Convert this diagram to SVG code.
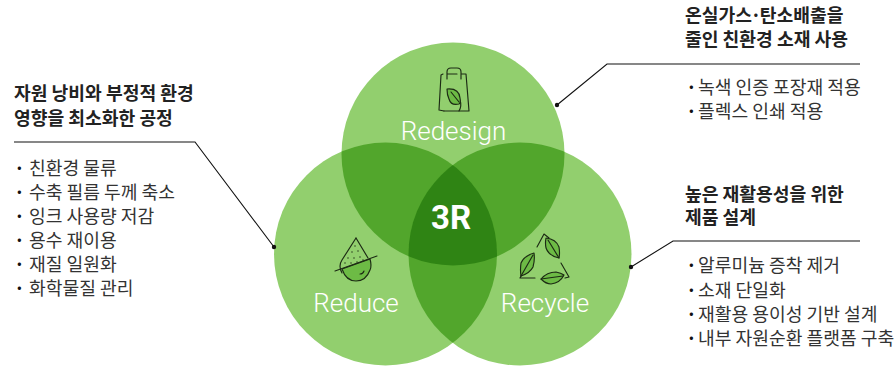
<svg xmlns="http://www.w3.org/2000/svg" width="895" height="366" viewBox="0 0 895 366">
<style>
text{font-family:"Noto Sans CJK KR","Noto Sans",sans-serif}
.h{font-size:18.2px;font-weight:700;fill:#222}
.b{font-size:18.2px;font-weight:400;fill:#333}
.d{font-weight:700;fill:#111}
.l{font-family:Roboto,"Noto Sans",sans-serif;font-size:26px;fill:#fff;font-weight:300;text-anchor:middle}
.c{fill:none;stroke:#111;stroke-width:1.1}
.i{fill:none;stroke:#1c2a14;stroke-width:1.15;stroke-linejoin:round;stroke-linecap:round}
.f{fill:#6dbb45;stroke:#1c2a14;stroke-width:1.15;stroke-linejoin:round}
</style>
<defs>
<clipPath id="ct"><circle cx="453" cy="154" r="111.5"/></clipPath>
<clipPath id="cl"><circle cx="385.5" cy="254" r="111.5"/></clipPath>
</defs>
<g id="venn">
<circle cx="453" cy="154" r="111.5" fill="#92cf6e"/>
<circle cx="385.5" cy="254" r="111.5" fill="#92cf6e"/>
<circle cx="520" cy="254" r="111.5" fill="#92cf6e"/>
<circle cx="385.5" cy="254" r="111.5" fill="#52a62c" clip-path="url(#ct)"/>
<circle cx="520" cy="254" r="111.5" fill="#52a62c" clip-path="url(#ct)"/>
<circle cx="520" cy="254" r="111.5" fill="#52a62c" clip-path="url(#cl)"/>
<g clip-path="url(#ct)"><circle cx="520" cy="254" r="111.5" fill="#2f8414" clip-path="url(#cl)"/></g>
<text x="451" y="229" style="font-family:Roboto,sans-serif" font-size="33" font-weight="700" fill="#fff" text-anchor="middle">3R</text>
</g>
<g id="node-redesign">
<path class="i" d="M443 74L441 75L439 110L444 111M459 111L469 111L466 74L461 74M447 74H457M447 74V72Q447 68 451 68H457Q461 68 461 72V79M447 74V79"/>
<path class="i" d="M444 111H459Q462 106 460 100"/>
<path class="f" d="M447 89Q459 88 460 98Q461 103 459 104Q451 106 449 99Q447 95 447 89Z"/>
<path class="i" d="M451 92L459 102"/>
<text class="l" x="453.500" y="140">Redesign</text>
</g>
<g id="node-reduce">
<path class="i" d="M356 238L342 260Q338 266 342 273"/>
<path class="i" d="M356 238L368 258"/>
<path class="f" d="M342 269L370 259Q372 266 370 270Q366 281 356 281Q346 281 342 269Z"/>
<path class="i" d="M335 271L377 256M364 271Q363 274 360 274"/>
<g fill="#1c2a14"><circle cx="355" cy="246" r=".7"/><circle cx="352" cy="252" r=".7"/><circle cx="358" cy="251" r=".7"/><circle cx="348" cy="258" r=".7"/><circle cx="354" cy="258" r=".7"/><circle cx="360" cy="257" r=".7"/><circle cx="345" cy="263" r=".7"/><circle cx="351" cy="263" r=".7"/><circle cx="357" cy="262" r=".7"/><circle cx="363" cy="260" r=".7"/></g>
<text class="l" x="356" y="312">Reduce</text>
</g>
<g id="node-recycle">
<path class="i" d="M537 247L544 234L549 238M561 263L569 277L565 278M535 278H520L524 270"/>
<path class="f" d="M546 238Q556 239 559 247Q560 253 559 258Q549 256 546 248Q545 243 546 238Z"/>
<path class="i" d="M548 240L559 258"/>
<path class="f" d="M534 253Q524 256 521 263Q520 270 521 276Q530 273 533 267Q535 260 534 253Z"/>
<path class="i" d="M533 255L521 276"/>
<path class="f" d="M541 279Q547 272 556 272Q561 273 564 275Q560 283 551 284Q546 284 541 279Z"/>
<path class="i" d="M541 279L563 276"/>
<text class="l" x="545" y="312">Recycle</text>
</g>
<g id="connectors">
<path class="c" d="M557 105L607 64H860"/>
<circle cx="557" cy="105" r="2.200" fill="#111"/>
<path class="c" d="M274 247L195 142H14"/>
<circle cx="274" cy="247" r="2.200" fill="#111"/>
<path class="c" d="M631 267L673 241H860"/>
<circle cx="631" cy="267" r="2.200" fill="#111"/>
</g>
<g id="note-left">
<text class="h" x="14" y="100">자원 낭비와 부정적 환경</text>
<text class="h" x="14" y="125">영향을 최소화한 공정</text>
<text class="b" y="175"><tspan class="d" x="14">·</tspan><tspan x="29">친환경 물류</tspan></text>
<text class="b" y="199"><tspan class="d" x="14">·</tspan><tspan x="29">수축 필름 두께 축소</tspan></text>
<text class="b" y="223"><tspan class="d" x="14">·</tspan><tspan x="29">잉크 사용량 저감</tspan></text>
<text class="b" y="247"><tspan class="d" x="14">·</tspan><tspan x="29">용수 재이용</tspan></text>
<text class="b" y="271"><tspan class="d" x="14">·</tspan><tspan x="29">재질 일원화</tspan></text>
<text class="b" y="295"><tspan class="d" x="14">·</tspan><tspan x="29">화학물질 관리</tspan></text>
</g>
<g id="note-top">
<text class="h" x="685" y="22">온실가스<tspan dx="-1.5">·</tspan><tspan dx="-1.500">탄소배출을</tspan></text>
<text class="h" x="685" y="46">줄인 친환경 소재 사용</text>
<text class="b" y="94"><tspan class="d" x="686">·</tspan><tspan x="698">녹색 인증 포장재 적용</tspan></text>
<text class="b" y="118"><tspan class="d" x="686">·</tspan><tspan x="698">플렉스 인쇄 적용</tspan></text>
</g>
<g id="note-right">
<text class="h" x="685" y="201">높은 재활용성을 위한</text>
<text class="h" x="685" y="224">제품 설계</text>
<text class="b" y="272"><tspan class="d" x="686">·</tspan><tspan x="698">알루미늄 증착 제거</tspan></text>
<text class="b" y="297"><tspan class="d" x="686">·</tspan><tspan x="698">소재 단일화</tspan></text>
<text class="b" y="321"><tspan class="d" x="686">·</tspan><tspan x="698">재활용 용이성 기반 설계</tspan></text>
<text class="b" y="345"><tspan class="d" x="686">·</tspan><tspan x="698">내부 자원순환 플랫폼 구축</tspan></text>
</g>
</svg>
